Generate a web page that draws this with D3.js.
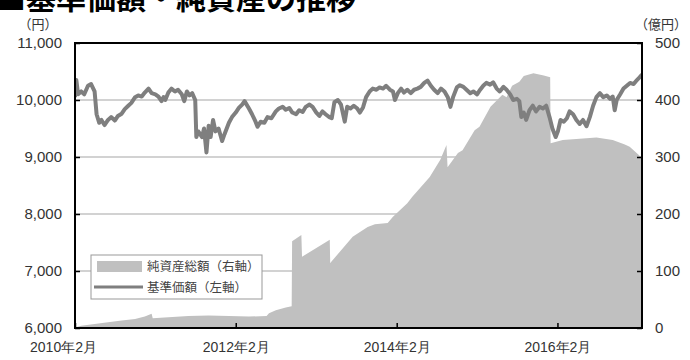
<!DOCTYPE html>
<html>
<head>
<meta charset="UTF-8">
<title>基準価額・純資産の推移</title>
<script src="https://d3js.org/d3.v7.min.js"></script>
<style>
    body { margin: 0; background: #fff; }
    svg { display: block; font-family: "Liberation Sans", Arial, "Noto Sans CJK JP", sans-serif; }
    .tick text { fill: #333; }
</style>
</head>
<body>
<svg width="690" height="360"></svg>
<script>

// 基準価額 (left axis, 円)
var navDates = [
    "2010-02-01","2010-02-07","2010-02-15","2010-03-01","2010-03-15","2010-04-01","2010-04-15","2010-05-01",
    "2010-05-10","2010-05-22","2010-06-01","2010-06-15","2010-07-01","2010-07-15","2010-08-01","2010-08-15",
    "2010-09-01","2010-09-15","2010-10-01","2010-10-15","2010-11-01","2010-11-15","2010-12-01","2010-12-15",
    "2011-01-01","2011-01-15","2011-02-01","2011-02-15","2011-03-01","2011-03-10","2011-03-18","2011-04-01",
    "2011-04-15","2011-05-01","2011-05-15","2011-06-01","2011-06-12","2011-06-24","2011-07-06","2011-07-18",
    "2011-08-01","2011-08-06","2011-08-15","2011-09-01","2011-09-10","2011-09-21","2011-10-01","2011-10-10",
    "2011-10-21","2011-11-01","2011-11-15","2011-12-01","2011-12-12","2012-01-01","2012-01-15","2012-02-01",
    "2012-02-15","2012-03-01","2012-03-12","2012-04-01","2012-04-15","2012-05-01","2012-05-10","2012-05-24",
    "2012-06-10","2012-06-24","2012-07-12","2012-08-01","2012-08-15","2012-09-01","2012-09-15","2012-10-01",
    "2012-10-15","2012-11-01","2012-11-15","2012-12-01","2012-12-15","2013-01-01","2013-01-15","2013-02-01",
    "2013-02-15","2013-03-01","2013-03-15","2013-04-01","2013-04-12","2013-04-24","2013-05-10","2013-05-24",
    "2013-06-10","2013-06-21","2013-07-06","2013-07-21","2013-08-06","2013-08-18","2013-09-01","2013-09-15",
    "2013-10-01","2013-10-15","2013-11-01","2013-11-15","2013-12-01","2013-12-15","2014-01-01","2014-01-15",
    "2014-01-24","2014-02-06","2014-02-21","2014-03-06","2014-03-21","2014-04-06","2014-04-21","2014-05-06",
    "2014-05-21","2014-06-06","2014-06-21","2014-07-06","2014-07-21","2014-08-06","2014-08-21","2014-09-06",
    "2014-09-21","2014-10-03","2014-10-15","2014-11-01","2014-11-15","2014-12-01","2014-12-15","2015-01-01",
    "2015-01-15","2015-02-01","2015-02-15","2015-03-01","2015-03-15","2015-04-01","2015-04-15","2015-05-01",
    "2015-05-15","2015-06-01","2015-06-15","2015-07-01","2015-07-15","2015-08-01","2015-08-12","2015-08-21",
    "2015-09-01","2015-09-12","2015-09-27","2015-10-12","2015-10-27","2015-11-12","2015-11-27","2015-12-12",
    "2015-12-27","2016-01-09","2016-01-24","2016-02-03","2016-02-15","2016-03-01","2016-03-15","2016-03-27",
    "2016-04-12","2016-04-27","2016-05-12","2016-05-27","2016-06-12","2016-06-27","2016-07-12","2016-07-27",
    "2016-08-12","2016-08-27","2016-09-12","2016-09-27","2016-10-09","2016-10-18","2016-10-27","2016-11-12",
    "2016-11-27","2016-12-12","2016-12-27","2017-01-12","2017-01-27","2017-02-09","2017-02-19"
];
var navValues = [
    10050,10350,10100,10150,10100,10250,10280,10150,
    9750,9600,9650,9560,9650,9700,9640,9720,
    9760,9840,9900,9950,10050,10080,10060,10130,
    10200,10120,10100,10060,9980,10050,10000,10130,
    10200,10150,10180,10100,9980,10150,10080,10120,
    10000,9350,9450,9350,9500,9080,9550,9350,
    9650,9450,9500,9280,9400,9600,9700,9780,
    9860,9920,9980,9850,9750,9620,9530,9620,
    9600,9700,9680,9800,9850,9880,9830,9860,
    9780,9750,9820,9790,9880,9920,9880,9780,
    9720,9800,9750,9700,9680,9960,10000,9920,
    9620,9880,9850,9900,9850,9780,9870,10050,
    10150,10200,10180,10220,10200,10250,10180,10150,
    10000,10120,10200,10130,10180,10120,10180,10200,
    10230,10300,10340,10250,10180,10120,10200,10150,
    10050,9880,10050,10220,10260,10230,10180,10120,
    10150,10100,10180,10250,10300,10270,10310,10200,
    10150,10230,10180,10100,10000,10020,9980,9700,
    9780,9650,9820,9900,9800,9880,9850,9900,
    9700,9500,9350,9450,9650,9620,9680,9800,
    9750,9650,9580,9650,9540,9700,9900,10050,
    10120,10050,10080,10020,10060,9820,10000,10100,
    10200,10250,10300,10280,10350,10400,10450
];

// 純資産総額 (right axis, 億円)
var assetDates = [
    "2010-02-01","2010-03-01","2010-05-01","2010-07-01","2010-09-01","2010-11-01","2010-12-15","2011-01-15",
    "2011-01-20","2011-04-01","2011-07-01","2011-10-01","2012-01-01","2012-04-01","2012-06-20","2012-07-01",
    "2012-08-01","2012-09-15","2012-10-12","2012-10-14","2012-11-25","2012-11-28","2013-04-03","2013-04-05",
    "2013-07-16","2013-09-22","2013-10-25","2013-12-22","2014-01-15","2014-03-21","2014-04-12","2014-06-06",
    "2014-07-01","2014-08-18","2014-09-15","2014-09-20","2014-11-06","2014-11-27","2015-01-21","2015-02-12",
    "2015-04-03","2015-05-27","2015-06-15","2015-07-10","2015-08-12","2015-09-01","2015-10-15","2015-12-01",
    "2015-12-30","2016-01-01","2016-02-25","2016-05-12","2016-07-27","2016-10-09","2016-12-03","2016-12-25",
    "2017-02-01","2017-02-19"
];
var assetValues = [
    1,4,7,10,13,16,20,25,
    17,19,21,22,21,20,21,26,
    31,36,38,152,163,125,155,114,
    160,177,182,184,195,219,230,254,
    265,295,321,282,307,312,347,353,
    388,409,405,425,432,442,447,443,
    440,324,330,332,334,330,322,318,
    305,298
];

var leftTicks = [6000, 7000, 8000, 9000, 10000, 11000];
var rightTicks = [0, 100, 200, 300, 400, 500];
var xTickDates = ["2010-02-01", "2012-02-01", "2014-02-01", "2016-02-01"];
var xTickLabels = ["2010年2月", "2012年2月", "2014年2月", "2016年2月"];

var parse = d3.timeParse("%Y-%m-%d");
var nav = navDates.map(function(d, i) { return { date: parse(d), value: navValues[i] }; });
var assets = assetDates.map(function(d, i) { return { date: parse(d), value: assetValues[i] }; });

// plot box
var plotL = 75, plotR = 642, plotT = 43, plotB = 328;

var x = d3.scaleTime()
    .domain([parse("2010-02-01"), parse("2017-02-19")])
    .range([plotL, plotR]);
var yLeft = d3.scaleLinear().domain([6000, 11000]).range([plotB, plotT]);
var yRight = d3.scaleLinear().domain([0, 500]).range([plotB, plotT]);

var svg = d3.select("svg");

svg.append("defs").append("clipPath").attr("id", "plot")
    .append("rect")
    .attr("x", plotL).attr("y", plotT)
    .attr("width", plotR - plotL).attr("height", plotB - plotT);

// title, cut off at the top edge like the source
svg.append("text")
    .attr("x", 356).attr("y", 9)
    .attr("text-anchor", "end")
    .style("font-family", "'Noto Sans CJK JP', sans-serif")
    .style("font-weight", "bold")
    .style("font-size", "30px")
    .style("fill", "#000")
    .text("■基準価額・純資産の推移");

// unit labels
svg.append("text")
    .attr("x", 38).attr("y", 29)
    .attr("text-anchor", "middle")
    .style("font-family", "'Noto Sans CJK JP', sans-serif")
    .style("font-size", "13px").style("fill", "#333")
    .text("（円）");
svg.append("text")
    .attr("x", 661).attr("y", 29)
    .attr("text-anchor", "middle")
    .style("font-family", "'Noto Sans CJK JP', sans-serif")
    .style("font-size", "13px").style("fill", "#333")
    .text("（億円）");

// horizontal grid lines
svg.append("g").selectAll("line")
    .data(leftTicks.slice(1, -1))
    .enter().append("line")
    .attr("x1", plotL).attr("x2", plotR)
    .attr("y1", function(d) { return yLeft(d); })
    .attr("y2", function(d) { return yLeft(d); })
    .style("stroke", "#a6a6a6")
    .style("stroke-width", 1.2);

// net assets area
var area = d3.area()
    .x(function(d) { return x(d.date); })
    .y0(yRight(0))
    .y1(function(d) { return yRight(d.value); });

svg.append("path")
    .datum(assets)
    .attr("clip-path", "url(#plot)")
    .attr("d", area)
    .style("fill", "#c0c0c0");

// NAV line
var line = d3.line()
    .x(function(d) { return x(d.date); })
    .y(function(d) { return yLeft(d.value); });

svg.append("path")
    .datum(nav)
    .attr("clip-path", "url(#plot)")
    .attr("d", line)
    .style("fill", "none")
    .style("stroke", "#7f7f7f")
    .style("stroke-width", 4)
    .style("stroke-linejoin", "round");

// axes (ticks point inwards)
var gLeft = svg.append("g")
    .attr("transform", "translate(" + plotL + ",0)")
    .call(d3.axisLeft(yLeft).tickValues(leftTicks).tickSize(-5).tickPadding(13)
        .tickFormat(d3.format(",")));
var gRight = svg.append("g")
    .attr("transform", "translate(" + plotR + ",0)")
    .call(d3.axisRight(yRight).tickValues(rightTicks).tickSize(-5).tickPadding(13));
var gBottom = svg.append("g")
    .attr("transform", "translate(0," + plotB + ")")
    .call(d3.axisBottom(x).tickValues(xTickDates.map(parse)).tickSize(-5).tickPadding(14)
        .tickFormat(function(d, i) { return xTickLabels[i]; }));

[gLeft, gRight, gBottom].forEach(function(g) {
    g.select(".domain").remove();
    g.selectAll(".tick line").style("stroke", "#000").style("stroke-width", 1.5);
    g.selectAll(".tick text").style("font-size", "15px");
});
gBottom.selectAll(".tick text")
    .style("font-size", "14px")
    .attr("dx", function(d, i) { return i === 0 ? -12 : 0; });

// frame
svg.append("rect")
    .attr("x", plotL).attr("y", plotT)
    .attr("width", plotR - plotL).attr("height", plotB - plotT)
    .style("fill", "none")
    .style("stroke", "#000")
    .style("stroke-width", 2);

// legend
var legend = svg.append("g");
legend.append("rect")
    .attr("x", 91).attr("y", 255).attr("width", 171).attr("height", 44)
    .style("fill", "#fff").style("stroke", "#999").style("stroke-width", 1);
legend.append("rect")
    .attr("x", 97).attr("y", 261).attr("width", 45).attr("height", 11)
    .style("fill", "#c0c0c0");
legend.append("line")
    .attr("x1", 94).attr("x2", 143).attr("y1", 287).attr("y2", 287)
    .style("stroke", "#7f7f7f").style("stroke-width", 3);
legend.selectAll(".label")
    .data(["純資産総額（右軸）", "基準価額（左軸）"])
    .enter().append("text")
    .attr("class", "label")
    .attr("x", 147)
    .attr("y", function(d, i) { return 271 + i * 21; })
    .style("font-family", "'Noto Sans CJK JP', sans-serif")
    .style("font-size", "12.5px")
    .style("fill", "#444")
    .text(function(d) { return d; });

</script>
</body>
</html>
